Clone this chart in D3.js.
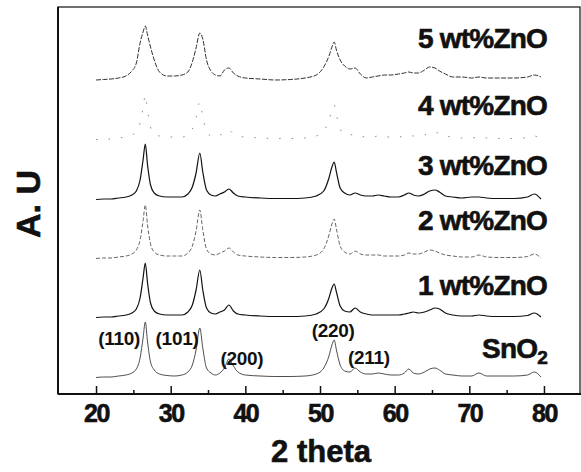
<!DOCTYPE html>
<html>
<head>
<meta charset="utf-8">
<script src="https://cdn.jsdelivr.net/npm/d3@7"></script>
<style>
  html, body { margin: 0; padding: 0; background: #fff; }
  svg { display: block; font-family: "Liberation Sans", Arial, sans-serif; }
  .heavy { stroke: #111; stroke-width: 0.6px; }
</style>
</head>
<body>
<svg id="chart" width="581" height="472"></svg>
<script>
// 2 theta sampling grid (denser around the peaks)
const twoTheta = [20, 21, 22, 23, 24, 24.8, 25.4, 25.9, 26.3, 26.6, 26.9, 27.3, 27.8, 28.5, 29.5,
  30.5, 31.5, 32.3, 32.9, 33.4, 33.9, 34.3, 34.8, 35.4, 36.0, 36.6, 37.2, 37.8, 38.4, 39.0,
  40, 42, 44, 46, 48, 49.5, 50.5, 51.2, 51.6, 51.9, 52.2, 52.7, 53.3, 54.0, 54.7, 55.4, 56.2,
  57.0, 57.8, 58.6, 59.5, 60.5, 61.3, 61.9, 62.5, 63.2, 64.0, 64.7, 65.4, 66.0, 66.8, 67.8,
  69, 70.3, 71.3, 72.3, 74, 76, 77.8, 78.7, 79.6];

// intensities above each pattern's own baseline (A.U.)
const snO2 = [0.5, 1, 1, 2, 3, 5, 9, 20, 40, 56, 36, 16, 8, 4, 2.5,
  2, 3, 6, 13, 28, 50, 30, 10, 5, 3, 5, 10, 19, 12, 6,
  3, 2, 1.5, 1.5, 2, 4, 10, 22, 33, 38, 28, 13, 7, 6, 10, 6, 4,
  4, 5, 4, 3, 3, 5, 9, 5, 4, 6, 9, 10, 8, 4, 3,
  2, 2, 5, 2, 2, 2, 3, 6, 1];
const zno1 = [0.5, 1, 1, 2, 3, 5, 9, 20, 40, 55, 35, 15, 7, 4, 3,
  3, 3, 6, 13, 28, 48, 28, 10, 5, 4, 6, 8, 13, 7, 4,
  3, 2, 1.5, 1.5, 2, 4, 9, 20, 30, 34, 26, 12, 7, 6, 10, 6, 4,
  3, 3, 3, 3, 3, 4, 5, 6, 5, 6, 8, 10, 9, 5, 3,
  2, 2, 3, 2, 1.5, 1.5, 2.5, 5, 1];
const zno2 = [0.5, 1, 1, 2, 3, 5, 9, 19, 38, 54, 34, 15, 7, 4, 3,
  3, 3, 6, 13, 28, 49, 29, 10, 5, 4, 6, 8, 11, 7, 4,
  3, 2, 1.5, 1.5, 2, 4, 10, 24, 35, 40, 30, 13, 7, 5, 8, 5, 4,
  4, 4, 3, 3, 3, 4, 6, 5, 5, 7, 9, 8, 6, 4, 3,
  2, 2, 4, 2, 1.5, 1.5, 2.5, 5, 1];
const zno3 = [0.5, 1, 1, 2, 3, 5, 9, 20, 40, 56, 35, 15, 7, 4, 3,
  3, 3, 6, 13, 27, 47, 28, 10, 5, 4, 6, 8, 11, 7, 4,
  3, 2, 1.5, 1.5, 2, 4, 9, 22, 33, 38, 28, 12, 7, 5, 7, 5, 4,
  4, 5, 4, 3, 3, 5, 7, 5, 4, 6, 9, 10, 8, 4, 3,
  2, 3, 3, 2, 1.5, 1.5, 3, 6, 1];
const zno4 = [0.5, 1, 1, 2, 3, 5, 8, 17, 32, 45, 29, 13, 6, 4, 3,
  3, 3, 5, 11, 22, 38, 23, 8, 4, 3, 5, 7, 10, 6, 4,
  3, 2, 1.5, 1.5, 2, 4, 9, 20, 30, 35, 25, 11, 6, 5, 6, 4, 3,
  3, 4, 3, 3, 3, 4, 5, 4, 4, 5, 7, 8, 6, 4, 3,
  2, 2, 3, 2, 1.5, 1.5, 2.5, 4, 1];
const zno5 = [0, 0.5, 1, 2, 4, 9, 17, 37, 48, 54, 45, 33, 20, 8, 4,
  4, 5, 8, 18, 32, 47, 41, 20, 9, 5, 4, 10, 12, 7, 4,
  2, 1, 0, 0.5, 2, 5, 13, 24, 33, 38, 30, 20, 14, 11, 12, 6, 2,
  3, 4, 5, 5, 6, 7, 8, 7, 7, 10, 13, 12, 9, 6, 3,
  3, 2, 3, 2, 2, 2, 3, 5, 3];

const seriesNames = ["SnO2", "1 wt%ZnO", "2 wt%ZnO", "3 wt%ZnO", "4 wt%ZnO", "5 wt%ZnO"];
const seriesValues = [snO2, zno1, zno2, zno3, zno4, zno5];
const seriesOffsets = [16, 76, 135, 194, 254, 314];
const labelHeights = [36, 99, 164, 219, 279, 346];

const majorTicks = [20, 30, 40, 50, 60, 70, 80];
const minorTicks = [25, 35, 45, 55, 65, 75];

const peakLabels = ["(110)", "(101)", "(200)", "(220)", "(211)"];
const peakAngles = [23.1, 30.85, 39.55, 51.75, 56.55];
const peakHeights = [49, 49, 29, 57, 30];

const svg = d3.select("#chart");
const frameL = 58, frameT = 7, frameR = 580, frameB = 394;

const x = d3.scaleLinear().domain([15, 85]).range([58.7, 581.3]);
const y = d3.scaleLinear().domain([0, 387]).range([394, 7]);

// series styles: some scans are faint in the print
const strokeCol = ["#3a3a3a", "#111", "#555", "#111", "#8a8a8a", "#333"];
const strokeW = [0.9, 1.2, 0.9, 1.2, 1, 1];
const dashes = [null, null, "4,2", null, "1.5,11", "5,1.5"];

const line = d3.line()
  .x(d => x(d[0]))
  .y(d => y(d[1]))
  .curve(d3.curveMonotoneX);

seriesValues.forEach((vals, i) => {
  const pts = twoTheta.map((t, j) => [t, vals[j] + seriesOffsets[i]]);
  svg.append("path")
    .attr("d", line(pts))
    .attr("fill", "none")
    .attr("stroke", strokeCol[i])
    .attr("stroke-width", strokeW[i])
    .attr("stroke-dasharray", dashes[i]);
});

// frame
svg.append("rect")
  .attr("x", frameL).attr("y", frameT)
  .attr("width", frameR - frameL).attr("height", frameB - frameT)
  .attr("fill", "none").attr("stroke", "#222").attr("stroke-width", 1.3);
svg.append("line")
  .attr("x1", frameL).attr("x2", frameL).attr("y1", frameT).attr("y2", frameB)
  .attr("stroke", "#111").attr("stroke-width", 2);

// x axis, ticks pointing inward
const xAxis = svg.append("g")
  .attr("transform", `translate(0,${frameB})`)
  .call(d3.axisBottom(x).tickValues(majorTicks).tickSize(-8).tickPadding(10).tickFormat(d3.format("d")));
xAxis.select(".domain").remove();
xAxis.selectAll(".tick line").attr("stroke", "#111").attr("stroke-width", 1.5);
xAxis.selectAll(".tick text")
  .attr("fill", "#111")
  .attr("class", "heavy")
  .style("font-size", "25px").style("font-weight", "bold").style("letter-spacing", "-1.5px");

const xMinor = svg.append("g")
  .attr("transform", `translate(0,${frameB})`)
  .call(d3.axisBottom(x).tickValues(minorTicks).tickSize(-4).tickFormat(""));
xMinor.select(".domain").remove();
xMinor.selectAll(".tick line").attr("stroke", "#111").attr("stroke-width", 1.5);

svg.append("line")
  .attr("x1", frameL).attr("x2", 581).attr("y1", frameB).attr("y2", frameB)
  .attr("stroke", "#111").attr("stroke-width", 2);

// series labels
seriesNames.forEach((name, i) => {
  const t = svg.append("text")
    .attr("class", "heavy")
    .attr("x", 547)
    .attr("y", y(labelHeights[i]))
    .attr("text-anchor", "end")
    .attr("fill", "#111")
    .style("font-size", "28px").style("font-weight", "bold").style("letter-spacing", "-0.8px");
  if (name === "SnO2") {
    t.append("tspan").text("SnO");
    t.append("tspan").attr("dy", 6).style("font-size", "19px").text("2");
  } else {
    t.text(name);
  }
});

// reflection labels
peakLabels.forEach((p, i) => {
  svg.append("text")
    .attr("x", x(peakAngles[i]))
    .attr("y", y(peakHeights[i]))
    .attr("text-anchor", "middle")
    .attr("fill", "#111")
    .style("font-size", "19px").style("font-weight", "bold").style("letter-spacing", "-0.3px")
    .text(p);
});

// axis titles
svg.append("text")
  .attr("class", "heavy")
  .attr("x", 321).attr("y", 462)
  .attr("text-anchor", "middle")
  .attr("fill", "#111")
  .style("font-size", "31px").style("font-weight", "bold")
  .text("2 theta");

svg.append("text")
  .attr("class", "heavy")
  .attr("transform", "translate(40,204) rotate(-90)")
  .attr("text-anchor", "middle")
  .attr("fill", "#111")
  .style("font-size", "34px").style("font-weight", "bold")
  .text("A. U");
</script>
</body>
</html>
